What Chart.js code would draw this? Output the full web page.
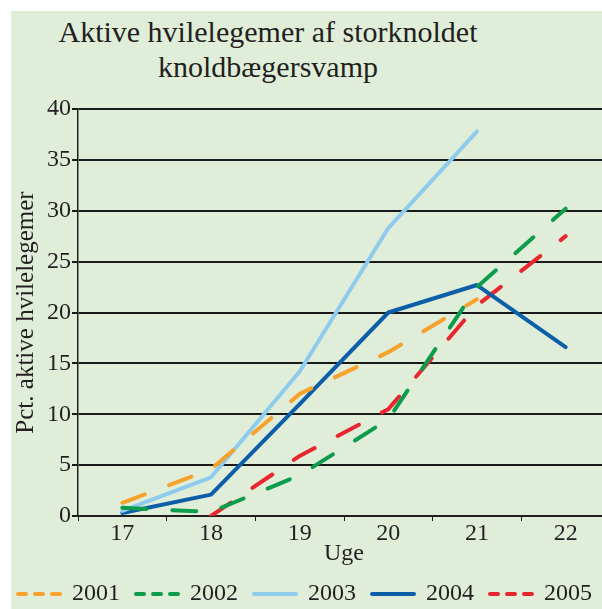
<!DOCTYPE html>
<html><head><meta charset="utf-8">
<script src="https://cdn.jsdelivr.net/npm/chart.js@4/dist/chart.umd.min.js"></script>
<style>
html,body{margin:0;padding:0;width:602px;height:609px;overflow:hidden;background:#fff;}
#bg{position:absolute;left:11px;top:11px;width:591px;height:598px;background:#e0eed9;}
#title{position:absolute;left:11px;top:14px;width:514px;text-align:center;font:30px/35px 'Liberation Serif',serif;color:#231f20;}
canvas{position:absolute;left:0;top:0;}
</style></head><body>
<div id="bg"></div>
<div id="title">Aktive hvilelegemer af storknoldet<br>knoldbægersvamp</div>
<canvas id="c" width="620" height="625"></canvas>
<script>
const weeks = ['17', '18', '19', '20', '21', '22'];
const y2001 = [1.3, 4.6, 12.0, 16.1, 21.3, null];
const y2002 = [0.8, 0.4, 4.0, 9.5, 22.5, 30.2];
const y2003 = [0.5, 3.8, 14.2, 28.3, 37.8, null];
const y2004 = [0.3, 2.1, 11.0, 20.0, 22.7, 16.6];
const y2005 = [null, 0, 5.9, 10.5, 20.7, 27.5];
const yTicks = [0, 5, 10, 15, 20, 25, 30, 35, 40];
const seriesNames = ['2001', '2002', '2003', '2004', '2005'];

const TXT = '#231f20';
const SERIF = "'Liberation Serif', 'Times New Roman', serif";
const dashed = [24, 26];

function ds(label, data, color, dash) {
  return {
    label: label, data: data, borderColor: color, backgroundColor: color,
    borderWidth: 4, borderDash: dash, borderCapStyle: 'round', borderJoinStyle: 'round',
    pointRadius: 0, tension: 0, fill: false, spanGaps: false
  };
}

new Chart(document.getElementById('c').getContext('2d'), {
  type: 'line',
  data: {
    labels: weeks,
    datasets: [
      ds(seriesNames[0], y2001, '#f6a22d', dashed),
      ds(seriesNames[1], y2002, '#0c9c4b', dashed),
      ds(seriesNames[2], y2003, '#8ecbec', []),
      ds(seriesNames[3], y2004, '#0d5ea8', []),
      ds(seriesNames[4], y2005, '#e8262e', dashed)
    ]
  },
  options: {
    responsive: false,
    animation: false,
    layout: { padding: { left: 0, right: 10, top: 109, bottom: 9 } },
    scales: {
      x: {
        offset: true,
        grid: { offset: true, drawOnChartArea: false, drawTicks: true, tickLength: 5, color: TXT, lineWidth: 1 },
        border: { display: true, color: TXT, width: 2 },
        ticks: { font: { family: SERIF, size: 24, lineHeight: 1 }, color: TXT, padding: 1, maxRotation: 0, autoSkip: false },
        title: { display: true, text: 'Uge', font: { family: SERIF, size: 24, lineHeight: 1 }, color: TXT, padding: { top: 0, bottom: 0 } },
        afterFit: function (s) { s.height = 50; }
      },
      y: {
        min: 0, max: 40,
        afterBuildTicks: function (s) { s.ticks = yTicks.map(v => ({ value: v })); },
        ticks: { font: { family: SERIF, size: 24 }, color: TXT, padding: 1 },
        grid: { color: '#1a1a1a', lineWidth: 2, tickLength: 6, drawTicks: true },
        border: { display: true, color: TXT, width: 1.5 },
        title: { display: true, text: 'Pct. aktive hvilelegemer', font: { family: SERIF, size: 25, lineHeight: 1 }, color: TXT, padding: { top: 14, bottom: 0 } },
        afterFit: function (s) { s.width = 78; }
      }
    },
    plugins: {
      title: { display: false },
      tooltip: { enabled: false },
      legend: {
        position: 'bottom',
        labels: {
          usePointStyle: true, pointStyle: 'line', pointStyleWidth: 42, boxHeight: 24,
          padding: 16, color: TXT, font: { family: SERIF, size: 24 },
          generateLabels: function (chart) {
            const items = Chart.defaults.plugins.legend.labels.generateLabels(chart);
            items.forEach(function (it, i) {
              const d = chart.data.datasets[i];
              it.lineDash = (d.borderDash && d.borderDash.length) ? [8, 9] : [];
              it.lineWidth = 4;
              it.lineCap = 'round';
              it.pointStyle = 'line';
              it.strokeStyle = d.borderColor;
              it.fillStyle = d.borderColor;
            });
            return items;
          }
        }
      }
    }
  }
});
</script>
</body></html>
